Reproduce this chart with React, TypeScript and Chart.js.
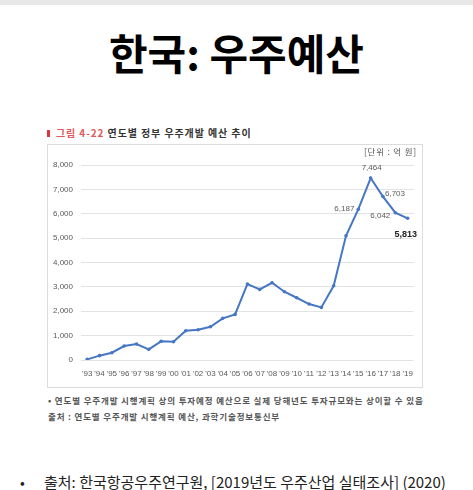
import React, { useEffect, useRef } from "react";
import { Chart, registerables } from "chart.js";

Chart.register(...registerables);

const years = ["'93", "'94", "'95", "'96", "'97", "'98", "'99", "'00", "'01", "'02", "'03", "'04", "'05", "'06", "'07", "'08", "'09", "'10", "'11", "'12", "'13", "'14", "'15", "'16", "'17", "'18", "'19"];
const budget = [27, 178, 300, 574, 656, 437, 765, 751, 1202, 1243, 1366, 1708, 1871, 3115, 2896, 3169, 2800, 2554, 2295, 2158, 3046, 5094, 6187, 7464, 6703, 6042, 5813];
const yTicks = [0, 1000, 2000, 3000, 4000, 5000, 6000, 7000, 8000];
const labeledYears = ["'15", "'16", "'17", "'18", "'19"];

const titleText = "한국: 우주예산";
const captionNo = "그림 4-22";
const captionText = "연도별 정부 우주개발 예산 추이";
const unitText = "[단위 : 억 원]";
const note1 = "• 연도별 우주개발 시행계획 상의 투자예정 예산으로 실제 당해년도 투자규모와는 상이할 수 있음";
const note2 = "출처 : 연도별 우주개발 시행계획 예산, 과학기술정보통신부";
const sourceText = "출처: 한국항공우주연구원, [2019년도 우주산업 실태조사] (2020)";

const fmt = (v: number) => v.toLocaleString("en-US");

// label placement styles (relative to the point)
const labelStyle: Record<string, { dx: number; dy: number; align: CanvasTextAlign; bold?: boolean }> = {
  "'15": { dx: -4, dy: 0, align: "right" },
  "'16": { dx: 1, dy: -10, align: "center" },
  "'17": { dx: 2, dy: -3, align: "left" },
  "'18": { dx: -5, dy: 3, align: "right" },
  "'19": { dx: -2, dy: 16, align: "center", bold: true },
};

const labelPlugin = {
  id: "valueLabels",
  afterDatasetsDraw(chart: any) {
    const meta = chart.getDatasetMeta(0);
    const ctx = chart.ctx as CanvasRenderingContext2D;
    ctx.save();
    ctx.textBaseline = "middle";
    labeledYears.forEach((yr) => {
      const i = years.indexOf(yr);
      const pt = meta.data[i];
      if (!pt) return;
      const st = labelStyle[yr];
      ctx.font = st.bold ? "bold 9px 'Liberation Sans'" : "8px 'Liberation Sans'";
      ctx.fillStyle = st.bold ? "#222" : "#595959";
      ctx.textAlign = st.align;
      ctx.fillText(fmt(budget[i]), pt.x + st.dx, pt.y + st.dy);
    });
    ctx.restore();
  },
};

function BudgetChart() {
  const ref = useRef<HTMLCanvasElement | null>(null);
  useEffect(() => {
    if (!ref.current) return;
    const chart = new Chart(ref.current, {
      type: "line",
      data: {
        labels: years,
        datasets: [
          {
            data: budget,
            borderColor: "#4677c4",
            backgroundColor: "#4677c4",
            borderWidth: 2,
            pointRadius: 1.8,
            pointBackgroundColor: "#4677c4",
            pointBorderWidth: 0,
            tension: 0,
          },
        ],
      },
      options: {
        animation: false,
        responsive: false,
        maintainAspectRatio: false,
        layout: { padding: { top: 20, right: 8, left: 0, bottom: 0 } },
        plugins: { legend: { display: false }, tooltip: { enabled: false }, title: { display: false } },
        scales: {
          x: {
            offset: true,
            grid: { display: false, drawTicks: false },
            border: { display: false },
            ticks: {
              autoSkip: false,
              maxRotation: 0,
              minRotation: 0,
              padding: 9,
              color: "#595959",
              font: { size: 8, family: "'Liberation Sans'" },
            },
            afterFit: (s: any) => {
              s.height = 27;
            },
          },
          y: {
            min: 0,
            max: 8000,
            afterBuildTicks: (s: any) => {
              s.ticks = yTicks.map((v) => ({ value: v }));
            },
            grid: { color: "#e3e3e3", drawTicks: false, lineWidth: 1 },
            border: { display: false },
            ticks: {
              padding: 8,
              color: "#595959",
              font: { size: 8, family: "'Liberation Sans'" },
              callback: (v: any) => fmt(Number(v)),
            },
            afterFit: (s: any) => {
              s.width = 33;
            },
          },
        },
      },
      plugins: [labelPlugin],
    });
    return () => chart.destroy();
  }, []);
  return <canvas ref={ref} width={374} height={242} style={{ width: 374, height: 242, display: "block" }} />;
}

export default function App() {
  return (
    <div style={{ position: "absolute", left: 0, top: 0, width: 473, height: 490, background: "#fff", overflow: "hidden", fontFamily: "'Noto Sans CJK KR', 'Noto Sans', sans-serif" }}>
      <div style={{ position: "absolute", left: 0, top: 0, width: 473, height: 5, background: "#e8e8e8" }} />
      <div style={{ position: "absolute", left: 0, top: 31, width: 473, textAlign: "center", fontSize: 42, lineHeight: "42px", fontWeight: 700, color: "#000" }}>
        {titleText}
      </div>

      <div style={{ position: "absolute", left: 47, top: 130, width: 3, height: 7, background: "#d9363e" }} />
      <div style={{ position: "absolute", left: 56, top: 126, fontSize: 10, lineHeight: "14px", fontWeight: 700, letterSpacing: 0.9, whiteSpace: "nowrap" }}>
        <span style={{ color: "#e05a5a" }}>{captionNo}</span> <span style={{ color: "#333" }}>{captionText}</span>
      </div>

      <div style={{ position: "absolute", left: 47, top: 144, width: 374, height: 242, border: "1px solid #dcdcdc" }}>
        <BudgetChart />
        <div style={{ position: "absolute", right: 5, top: 0, fontSize: 8.5, lineHeight: "12px", color: "#555", letterSpacing: 0.8, whiteSpace: "nowrap" }}>
          {unitText}
        </div>
      </div>

      <div style={{ position: "absolute", left: 48, top: 394, fontSize: 8.5, lineHeight: "13px", fontWeight: 700, color: "#555", letterSpacing: 0.85, whiteSpace: "nowrap" }}>
        {note1}
      </div>
      <div style={{ position: "absolute", left: 48, top: 410, fontSize: 8.5, lineHeight: "13px", fontWeight: 700, color: "#555", letterSpacing: 0.85, whiteSpace: "nowrap" }}>
        {note2}
      </div>

      <div style={{ position: "absolute", left: 20, top: 472, fontSize: 14, lineHeight: "20px", color: "#222" }}>•</div>
      <div style={{ position: "absolute", left: 44, top: 472, fontSize: 15, lineHeight: "20px", color: "#222", whiteSpace: "nowrap" }}>
        {sourceText}
      </div>
    </div>
  );
}
